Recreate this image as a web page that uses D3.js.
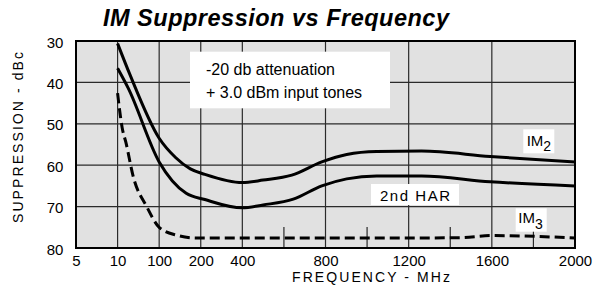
<!DOCTYPE html>
<html><head><meta charset="utf-8">
<script src="https://cdn.jsdelivr.net/npm/d3@7"></script>
<style>
body{margin:0;background:#fff}
svg{display:block}
text{font-family:"Liberation Sans",Arial,Helvetica,sans-serif;fill:#000}
</style>
</head><body><svg id="c" width="594" height="289"></svg>
<script>
// ---- data ----
const xTicks = [5, 10, 100, 200, 400, 800, 1200, 1600, 2000];
const xMinorTicks = [600, 1000, 1400, 1800];
const yTicks = [30, 40, 50, 60, 70, 80];

const im2Freq = [10, 37, 100, 140, 175, 220, 400, 500, 638, 782, 902, 1046, 1262, 1592, 2000];
const im2Val  = [30.6, 38.2, 53.5, 58.2, 60.9, 62.2, 64.2, 63.6, 62.4, 59.2, 57.4, 56.7, 56.6, 57.9, 59.2];

const harFreq = [10, 33, 100, 165, 220, 400, 500, 645, 782, 902, 1046, 1262, 1592, 2000];
const harVal  = [36.6, 41.4, 59.2, 66.8, 68.3, 70.3, 69.6, 68.2, 65.0, 63.3, 62.6, 62.6, 64.0, 65.0];

const im3Freq = [10, 20, 28, 44, 73, 100, 142, 190, 400, 1200, 1450, 1600, 1750, 2000];
const im3Val  = [42.6, 51.0, 54.5, 62.8, 70.0, 75.0, 76.9, 77.6, 77.6, 77.6, 77.5, 77.0, 77.1, 77.6];

// ---- layout ----
const L = 76, R = 575, T = 41, B = 248;
const xBreaks = [5, 10, 100, 200, 400, 2000];
const xSlots = [0, 1, 2, 3, 4, 12];
const x = d3.scaleLinear().domain(xBreaks).range(xSlots.map(s => L + (R - L) * s / 12));
const y = d3.scaleLinear().domain([30, 80]).range([T, B]);

const svg = d3.select("#c");
svg.append("rect").attr("width", 594).attr("height", 289).attr("fill", "#fff");

// plot background
svg.append("rect").attr("x", L).attr("y", T).attr("width", R - L).attr("height", B - T).attr("fill", "#e1e1e1");

// grid
const g = svg.append("g").attr("stroke", "#2a2a2a").attr("stroke-width", 1.2);
g.selectAll("line.v").data(xTicks).join("line")
  .attr("x1", d => x(d)).attr("x2", d => x(d)).attr("y1", T).attr("y2", B);
g.selectAll("line.h").data(yTicks).join("line").attr("class", "h")
  .attr("y1", d => y(d)).attr("y2", d => y(d)).attr("x1", L).attr("x2", R);
g.selectAll("line.m").data(xMinorTicks).join("line").attr("class", "m")
  .attr("x1", d => x(d)).attr("x2", d => x(d)).attr("y1", B).attr("y2", B - 21);

// border
svg.append("rect").attr("x", L).attr("y", T).attr("width", R - L).attr("height", B - T)
  .attr("fill", "none").attr("stroke", "#000").attr("stroke-width", 2);

// curves
const line = d3.line().x(d => x(d[0])).y(d => y(d[1])).curve(d3.curveMonotoneX);
const zip = (a, b) => a.map((v, i) => [v, b[i]]);
svg.append("path").datum(zip(im2Freq, im2Val)).attr("d", line)
  .attr("fill", "none").attr("stroke", "#000").attr("stroke-width", 3);
svg.append("path").datum(zip(harFreq, harVal)).attr("d", line)
  .attr("fill", "none").attr("stroke", "#000").attr("stroke-width", 3);
svg.append("path").datum(zip(im3Freq, im3Val)).attr("d", line)
  .attr("fill", "none").attr("stroke", "#000").attr("stroke-width", 3)
  .attr("stroke-dasharray", "10,5");

// axes
const xa = svg.append("g").attr("transform", `translate(0,${B})`)
  .call(d3.axisBottom(x).tickValues(xTicks).tickSize(0).tickPadding(7).tickFormat(d3.format("d")));
xa.select(".domain").remove();
xa.selectAll("text").attr("font-size", 15).attr("font-family", null);

const ya = svg.append("g").attr("transform", `translate(${L},0)`)
  .call(d3.axisLeft(y).tickValues(yTicks).tickSize(0).tickPadding(12.7).tickFormat(d3.format("d")));
ya.select(".domain").remove();
ya.selectAll("text").attr("font-size", 15).attr("font-family", null).attr("dy", "0.4em");

// titles
svg.append("text").attr("x", 103).attr("y", 25.7)
  .attr("font-size", 23.5).attr("font-weight", "bold").attr("font-style", "italic")
  .attr("textLength", 346).text("IM Suppression vs Frequency");

svg.append("text").attr("x", 292).attr("y", 282).attr("font-size", 14)
  .attr("textLength", 158).text("FREQUENCY - MHz");

svg.append("text").attr("transform", "translate(23,223) rotate(-90)").attr("font-size", 14)
  .attr("textLength", 171).text("SUPPRESSION - dBc");

// annotation box
svg.append("rect").attr("x", 190).attr("y", 51.7).attr("width", 200).attr("height", 56.6).attr("fill", "#fff");
svg.append("text").attr("x", 206).attr("y", 75).attr("font-size", 16).text("-20 db attenuation");
svg.append("text").attr("x", 206).attr("y", 98.3).attr("font-size", 16).text("+ 3.0 dBm input tones");

// series labels
svg.append("rect").attr("x", 523.3).attr("y", 129.3).attr("width", 31).attr("height", 24).attr("fill", "#fff");
const t2 = svg.append("text").attr("x", 526.7).attr("y", 146).attr("font-size", 15);
t2.append("tspan").text("IM");
t2.append("tspan").attr("dy", 4.7).attr("font-size", 14).text("2");

svg.append("rect").attr("x", 371).attr("y", 184).attr("width", 88).attr("height", 21).attr("fill", "#fff");
svg.append("text").attr("x", 380).attr("y", 200.7).attr("font-size", 15).attr("textLength", 70).text("2nd HAR");

svg.append("rect").attr("x", 515.7).attr("y", 208.3).attr("width", 31).attr("height", 23.4).attr("fill", "#fff");
const t3 = svg.append("text").attr("x", 518.3).attr("y", 223.3).attr("font-size", 15);
t3.append("tspan").text("IM");
t3.append("tspan").attr("dy", 5.7).attr("font-size", 14).text("3");
</script>
</body></html>
